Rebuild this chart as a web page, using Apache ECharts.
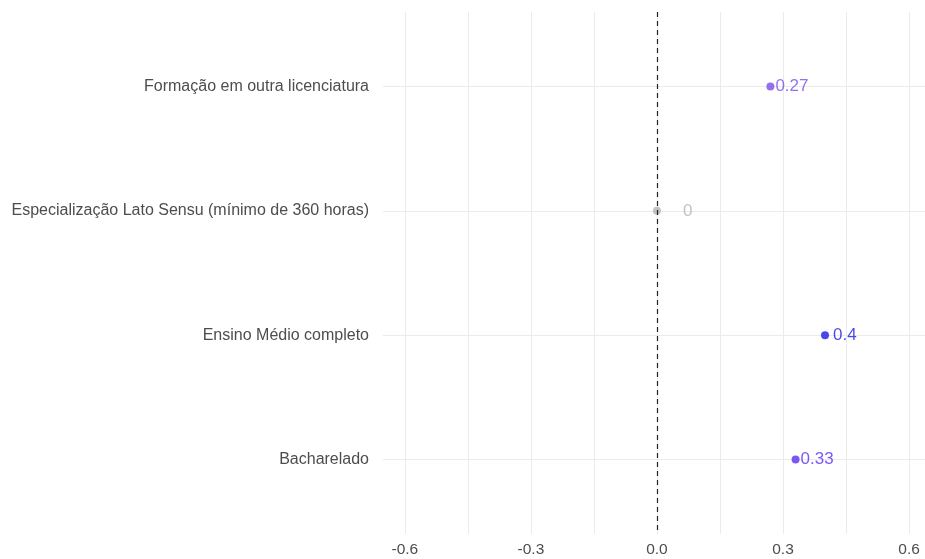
<!DOCTYPE html>
<html>
<head>
<meta charset="utf-8">
<script src="https://cdn.jsdelivr.net/npm/echarts@6/dist/echarts.min.js"></script>
<style>html,body{margin:0;padding:0;background:#fff;}#c{width:925px;height:559px;}</style>
</head>
<body>
<div id="c"></div>
<script>
const categories = [
  'Formação em outra licenciatura',
  'Especialização Lato Sensu (mínimo de 360 horas)',
  'Ensino Médio completo',
  'Bacharelado'
];
const values = [0.27, 0, 0.4, 0.33];
const pointColors = ['#7a4ee8', '#b3b3b3', '#1c1ce6', '#5a2ef2'];
const xTickLabels = [-0.6, -0.3, 0, 0.3, 0.6];
const xGridValues = [-0.6, -0.45, -0.3, -0.15, 0, 0.15, 0.3, 0.45, 0.6];
const yIndexes = [0, 1, 2, 3];
const labelGaps = [1, 22, 4, 1];

const chart = echarts.init(document.getElementById('c'));
const font = 'Liberation Sans, Arial, sans-serif';
chart.setOption({
  animation: false,
  grid: { left: 383, right: 0, top: 12, bottom: 25 },
  xAxis: {
    type: 'value', min: -0.652, max: 0.638,
    axisLine: { show: false },
    axisTick: { show: false, customValues: xGridValues },
    splitLine: { show: true, lineStyle: { color: '#ebebeb', width: 1 } },
    axisLabel: {
      customValues: xTickLabels, margin: 8,
      color: '#4d4d4d', fontSize: 15.5, fontFamily: font,
      formatter: v => v.toFixed(1)
    }
  },
  yAxis: {
    type: 'value', inverse: true, min: -0.6, max: 3.6,
    axisLine: { show: false },
    axisTick: { show: false, customValues: yIndexes },
    splitLine: { show: true, lineStyle: { color: '#ebebeb', width: 1 } },
    axisLabel: {
      customValues: yIndexes, margin: 14,
      color: '#4d4d4d', fontSize: 16, fontFamily: font,
      formatter: v => categories[v] || ''
    }
  },
  series: [{
    type: 'scatter',
    symbolSize: 8,
    data: values.map((v, i) => ({
      value: [v, i],
      itemStyle: { color: pointColors[i] },
      label: { show: true, position: 'right', distance: labelGaps[i], formatter: String(v),
               color: pointColors[i], fontSize: 17, fontFamily: font }
    })),
    markLine: {
      silent: true, symbol: 'none', label: { show: false },
      lineStyle: { color: '#222', type: [5, 4], width: 1.2 },
      data: [{ xAxis: 0 }]
    },
    z: 3
  }]
});
</script>
</body>
</html>
